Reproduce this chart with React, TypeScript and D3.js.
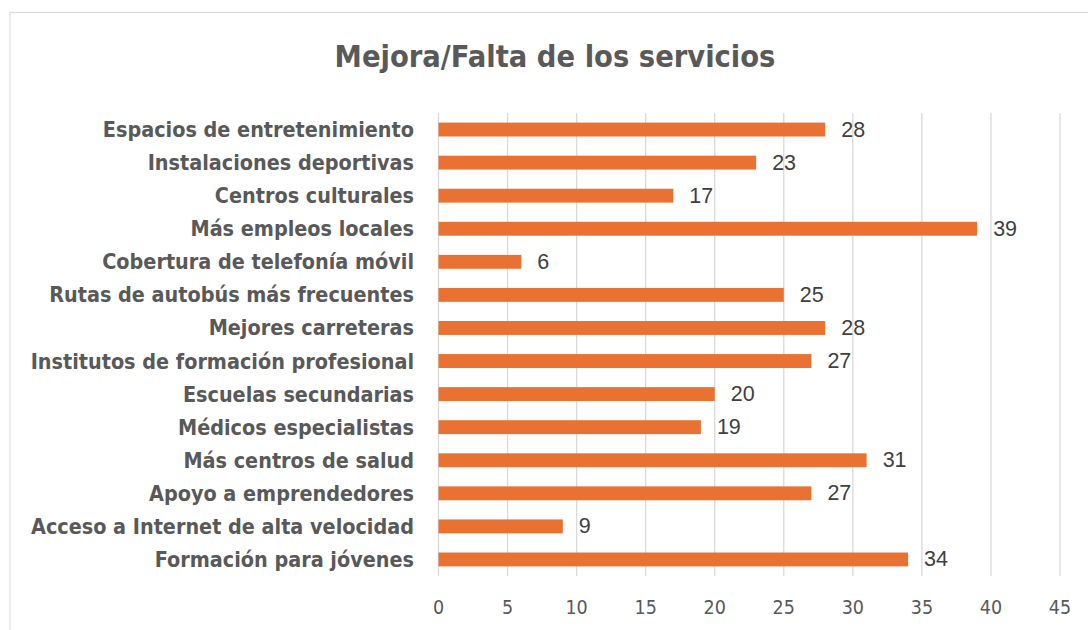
import React from "react";
import * as d3 from "d3";

const categories = [
  "Espacios de entretenimiento",
  "Instalaciones deportivas",
  "Centros culturales",
  "Más empleos locales",
  "Cobertura de telefonía móvil",
  "Rutas de autobús más frecuentes",
  "Mejores carreteras",
  "Institutos de formación profesional",
  "Escuelas secundarias",
  "Médicos especialistas",
  "Más centros de salud",
  "Apoyo a emprendedores",
  "Acceso a Internet de alta velocidad",
  "Formación para jóvenes",
];
const values = [28, 23, 17, 39, 6, 25, 28, 27, 20, 19, 31, 27, 9, 34];
const xTicks = [0, 5, 10, 15, 20, 25, 30, 35, 40, 45];
const title = "Mejora/Falta de los servicios";

const W = 1088;
const H = 630;
const narrow = "'Liberation Sans Narrow', 'DejaVu Sans Condensed', 'Roboto', sans-serif";

export default function App() {
  const x = d3.scaleLinear().domain([0, 45]).range([438.5, 1060]);
  const y = d3.scaleBand<string>().domain(categories).range([113, 576]).paddingInner(0.58).paddingOuter(0.29);
  return (
    <svg width={W} height={H} style={{ position: "absolute", left: 0, top: 0, background: "#fff" }}>
      <rect x={10} y={12.5} width={1100} height={700} fill="#fff" stroke="#D9D9D9" strokeWidth={1} />
      <text x={555} y={67} textAnchor="middle" fontFamily={narrow} fontWeight="bold" fontSize={30.5} fill="#595959">
        {title}
      </text>
      {xTicks.map((t) => (
        <g key={t}>
          <line x1={x(t)} x2={x(t)} y1={113} y2={576} stroke="#D9D9D9" strokeWidth={1.3} />
          <text x={x(t)} y={614} textAnchor="middle" fontFamily={narrow} fontSize={19.5} fill="#595959">
            {t}
          </text>
        </g>
      ))}
      {categories.map((c, i) => {
        const yy = y(c)!;
        const bw = y.bandwidth();
        return (
          <g key={c}>
            <rect x={x(0)} y={yy} width={x(values[i]) - x(0)} height={bw} fill="#E97132" />
            <text x={x(values[i]) + 16} y={yy + bw / 2} dominantBaseline="central" fontFamily="'Liberation Sans', Arial, sans-serif" fontSize={21.5} fill="#404040">
              {values[i]}
            </text>
            <text x={414} y={yy + bw / 2} dominantBaseline="central" textAnchor="end" fontFamily={narrow} fontWeight="bold" fontSize={21.4} fill="#595959">
              {c}
            </text>
          </g>
        );
      })}
    </svg>
  );
}
